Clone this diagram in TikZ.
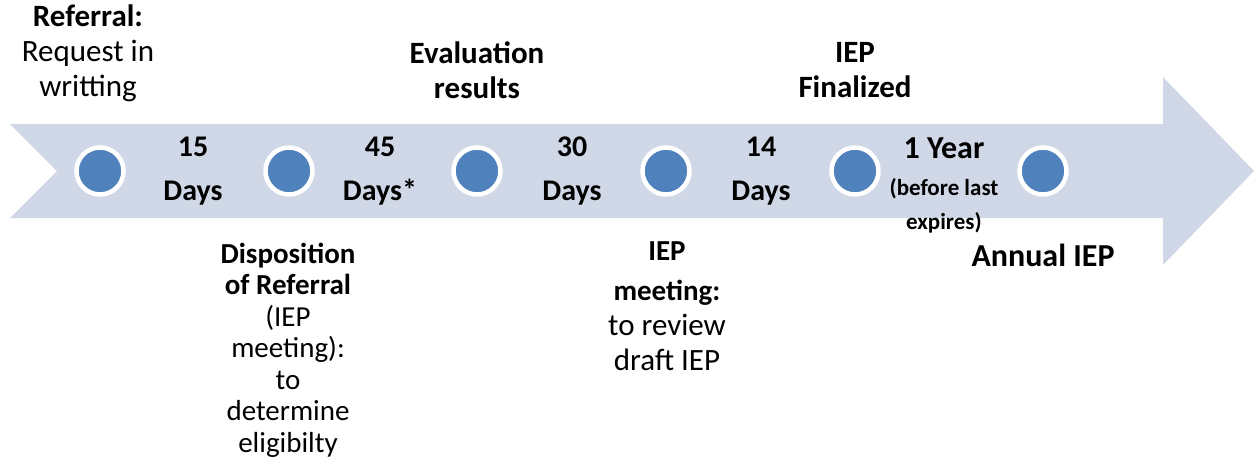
\documentclass[tikz,border=0pt]{standalone}
\usepackage{fontspec}
\setmainfont{Carlito}
\definecolor{bandblue}{RGB}{208,216,232}
\definecolor{dotblue}{RGB}{79,129,189}
\begin{document}
\begin{tikzpicture}[x=1pt, y=-1pt,
  lbl/.style={align=center, inner sep=0pt, font=\fontsize{31}{35}\selectfont},
  dot/.style={circle, fill=dotblue, draw=white, line width=4.5pt, minimum size=47pt, inner sep=0pt}]
\useasboundingbox (0,0) rectangle (1254,460);
\fill[bandblue] (10,124) -- (1163,124) -- (1163,77) -- (1254,171) -- (1163,265)
    -- (1163,218) -- (10,218) -- (57,171) -- cycle;
\foreach \i/\x in {1/100, 2/289, 3/477, 4/666, 5/855, 6/1043}
  \node[dot] (c\i) at (\x,171) {};
\tikzset{days/.style={lbl, font=\fontsize{30}{44}\selectfont}}
\node[days] (days1) at (193,171) {\textbf{15}\\\textbf{Days}};
\node[days] (days2) at (380,171) {\textbf{45}\\\textbf{Days*}};
\node[days] (days3) at (572,171) {\textbf{30}\\\textbf{Days}};
\node[days] (days4) at (761,171) {\textbf{14}\\\textbf{Days}};
\node[lbl, font=\fontsize{32}{35}\selectfont] (year) at (944,148) {\textbf{1 Year}};
\node[lbl, font=\fontsize{23}{34}\selectfont] (before) at (944,206)
  {\textbf{(before last}\\\textbf{expires)}};
\node[lbl] (referral) at (88,53) {\textbf{Referral:}\\Request in\\writting};
\node[lbl] (results) at (477,70) {\textbf{Evaluation}\\\textbf{results}};
\node[lbl] (final) at (855,70) {\textbf{IEP}\\\textbf{Finalized}};
\node[lbl, font=\fontsize{29}{31.5}\selectfont] (dispo) at (288,350)
  {\textbf{Disposition}\\\textbf{of Referral}\\(IEP\\meeting):\\to\\determine\\eligibilty};
\node[lbl] (meeting) at (667,306)
  {\textbf{\fontsize{29}{34}\selectfont IEP}\\[5pt]\textbf{\fontsize{29}{34}\selectfont meeting:}\\to review\\draft IEP};
\node[lbl, font=\fontsize{32}{35}\selectfont] (annual) at (1043,255) {\textbf{Annual IEP}};
\end{tikzpicture}
\end{document}
